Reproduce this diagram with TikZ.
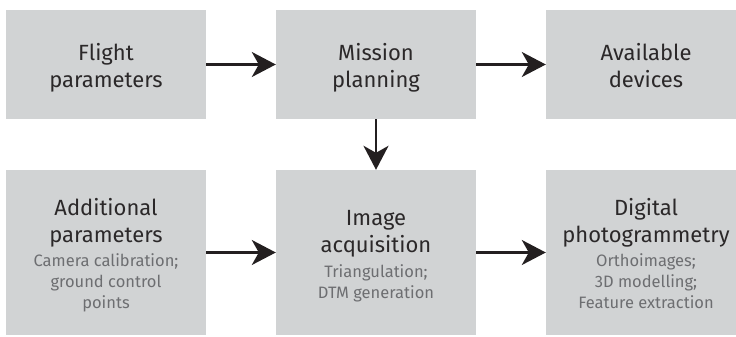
\documentclass[tikz,border=0pt]{standalone}
\usepackage{fontspec}
\setmainfont{Fira Sans}
\usetikzlibrary{arrows.meta}
\definecolor{boxgray}{HTML}{D1D3D4}
\definecolor{maintext}{HTML}{2B2829}
\definecolor{subtext}{HTML}{6D6E71}
\definecolor{arrowcol}{HTML}{231F20}
\newcommand{\subtxt}[1]{{\color{subtext}\fontsize{16.5}{21}\selectfont #1}}
\newcommand{\topstrut}{\rule{0pt}{24pt}}
\newcommand{\botstrut}[1]{\rule[-#1pt]{0pt}{#1pt}}
\tikzset{
  flowbox/.style={fill=boxgray, draw=none, inner sep=0pt, minimum width=200pt,
    align=center, text=maintext, font=\fontsize{22}{27}\selectfont},
  toprow/.style={flowbox, minimum height=109pt},
  botrow/.style={flowbox, minimum height=165pt},
  flowarrow/.style={line width=2.3pt, draw=arrowcol,
    -{Stealth[length=24pt, width=25pt, inset=7pt]}}
}
\begin{document}
\begin{tikzpicture}[x=1pt, y=-1pt]
\useasboundingbox (0,0) rectangle (736,337);
\clip (0,0) rectangle (736,337);
\node[toprow] (flight) at (106,64.5) {\topstrut Flight\\parameters\botstrut{6}};
\node[toprow] (mission) at (376,64.5) {\topstrut Mission\\planning\botstrut{6}};
\node[toprow] (devices) at (646,64.5) {\topstrut Available\\devices\botstrut{6}};
\node[botrow] (additional) at (106,252.5) {\topstrut Additional\\parameters\\[-2.5pt]\subtxt{Camera calibration;}\\[-6pt]\subtxt{ground control}\\[-6pt]\subtxt{points\botstrut{5}}};
\node[botrow] (image) at (376,252.5) {\topstrut Image\\acquisition\\[-2.5pt]\subtxt{Triangulation;}\\[-6pt]\subtxt{DTM generation\botstrut{5}}};
\node[botrow] (digital) at (646,252.5) {\topstrut Digital\\photogrammetry\\[-2.5pt]\subtxt{Orthoimages;}\\[-6pt]\subtxt{3D modelling;}\\[-6pt]\subtxt{Feature extraction\botstrut{5}}};
\draw[flowarrow] (flight.east) -- (mission.west);
\draw[flowarrow] (mission.east) -- (devices.west);
\draw[flowarrow] (mission.south) -- (image.north);
\draw[flowarrow] (additional.east) -- (image.west);
\draw[flowarrow] (image.east) -- (digital.west);
\end{tikzpicture}
\end{document}
